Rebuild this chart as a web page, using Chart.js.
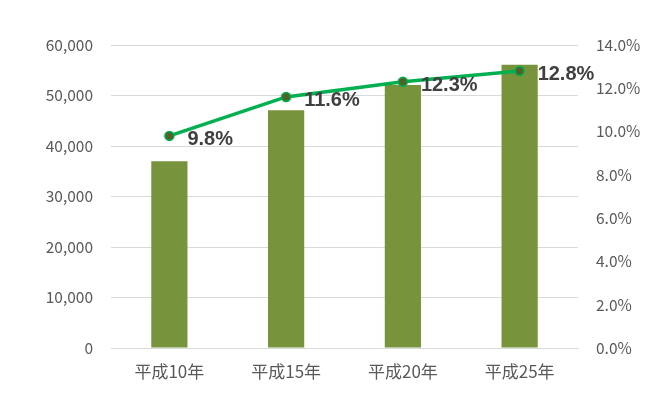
<!DOCTYPE html>
<html><head><meta charset="utf-8">
<script src="https://cdn.jsdelivr.net/npm/chart.js@4/dist/chart.umd.min.js"></script>
<style>html,body{margin:0;padding:0;background:#fff}#wrap{width:664px;height:395px}</style>
</head><body><div id="wrap"><canvas id="c" width="664" height="395"></canvas></div>
<script>
const categories = ['平成10年','平成15年','平成20年','平成25年'];
const barValues = [37000, 47100, 52100, 56100];
const rateValues = [9.8, 11.6, 12.3, 12.8];
const rateLabels = ['9.8%','11.6%','12.3%','12.8%'];

const labelPlugin = {
  id: 'rateLabels',
  afterDatasetsDraw(chart) {
    const meta = chart.getDatasetMeta(0);
    const ctx = chart.ctx;
    ctx.save();
    ctx.font = 'bold 20px "Liberation Sans", Arial, sans-serif';
    ctx.fillStyle = '#404040';
    ctx.textAlign = 'left';
    ctx.textBaseline = 'middle';
    meta.data.forEach((pt, i) => {
      ctx.fillText(rateLabels[i], pt.x + 18, pt.y + 4);
    });
    ctx.restore();
  }
};

const tickFont = {family: '"Noto Sans CJK JP", sans-serif', size: 15.5};
new Chart(document.getElementById('c'), {
  data: {
    labels: categories,
    datasets: [
      {type: 'line', data: rateValues, yAxisID: 'y1', order: 0,
       borderColor: '#00B050', borderWidth: 3.5, tension: 0,
       pointRadius: 4.5, pointBackgroundColor: '#4F6228', pointBorderColor: '#00B050', pointBorderWidth: 1.5},
      {type: 'bar', data: barValues, yAxisID: 'y', order: 1,
       backgroundColor: '#77933C', barPercentage: 0.31, categoryPercentage: 1}
    ]
  },
  options: {
    responsive: false, animation: false,
    layout: {padding: {top: 45, bottom: 0, left: 0, right: 0}},
    plugins: {legend: {display: false}, tooltip: {enabled: false}},
    scales: {
      x: {
        grid: {display: false, drawTicks: false},
        border: {display: true, color: '#D9D9D9'},
        ticks: {color: '#595959', font: {family: '"Noto Sans CJK JP", sans-serif', size: 17}, padding: 13},
        afterFit(s) { s.height = 47; }
      },
      y: {
        position: 'left', min: 0, max: 60000,
        grid: {color: '#D9D9D9', drawTicks: false},
        border: {display: false},
        ticks: {stepSize: 10000, color: '#595959', font: tickFont, padding: 18,
          callback: v => v.toLocaleString('en-US')},
        afterFit(s) { s.width = 111; }
      },
      y1: {
        position: 'right', min: 0, max: 14,
        grid: {display: false, drawTicks: false},
        border: {display: false},
        ticks: {stepSize: 2, color: '#595959', font: tickFont, padding: 18,
          callback: v => v.toFixed(1) + '%'},
        afterFit(s) { s.width = 86; }
      }
    }
  },
  plugins: [labelPlugin]
});
</script></body></html>
